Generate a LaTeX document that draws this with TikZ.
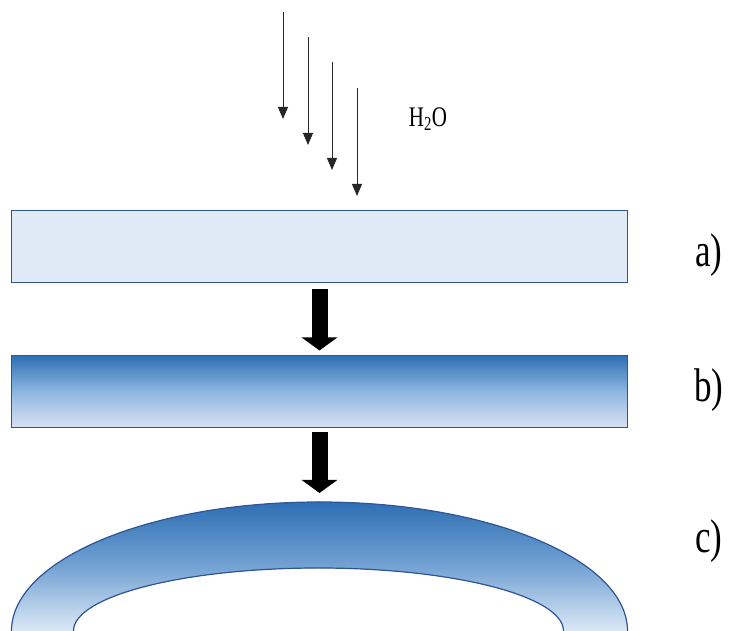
\documentclass[tikz,border=0pt]{standalone}
\usepackage{fontspec}
\setmainfont{Liberation Serif}
\usetikzlibrary{arrows.meta}
\definecolor{edgeblue}{HTML}{2F5597}
\definecolor{paleblue}{HTML}{DEEAF6}
\definecolor{deepblue}{HTML}{2E6FB5}
\definecolor{midblue}{HTML}{8DB6E0}
\definecolor{lavender}{HTML}{D9E0F3}
\definecolor{archmid}{HTML}{74A2D3}
\definecolor{lightblue}{HTML}{DCE9F6}
\newcommand{\stretchtext}[1]{\scalebox{1}[1.35]{#1}}
\begin{document}
\begin{tikzpicture}[x=1pt,y=1pt,
  layer/.style={draw=edgeblue, line width=1.5pt, minimum width=616pt, minimum height=72pt, inner sep=0pt, outer sep=0pt},
  fatarrow/.style={line width=16pt, -{Triangle[width=35pt,length=13pt]}},
  droparrow/.style={draw=black!85, line width=0.9pt, -{Triangle[width=10pt,length=12pt]}},
  steplabel/.style={font=\fontsize{35}{40}\selectfont, inner sep=0pt},
  watertext/.style={font=\fontsize{21}{25}\selectfont, inner sep=0pt},
  archedge/.style={draw=edgeblue, line width=1.2pt}]
\useasboundingbox (0,0) rectangle (731,631);

% layer a
\node[layer, fill=paleblue] (a) at (319.5,384.5) {};
% layer b
\node[layer, top color=deepblue, bottom color=lavender, middle color=midblue] (b) at (319.5,239.5) {};

% arch c
\fill[top color=deepblue, bottom color=lightblue, middle color=archmid]
  (11.5,0) arc[start angle=180, end angle=0, x radius=308, y radius=129]
  -- (563.5,0) arc[start angle=0, end angle=180, x radius=245, y radius=63] -- cycle;
\draw[archedge] (11.5,0) arc[start angle=180, end angle=0, x radius=308, y radius=129];
\draw[archedge] (563.5,0) arc[start angle=0, end angle=180, x radius=245, y radius=63];
\coordinate (archtop) at (319.5,129);

% fat arrows
\draw[fatarrow] ([yshift=-7pt]a.south) -- ([yshift=5pt]b.north);
\draw[fatarrow] ([yshift=-5pt]b.south) -- ([yshift=9pt]archtop);

% water drops
\coordinate (d1s) at (283,619); \coordinate (d1e) at (283,512);
\coordinate (d2s) at (308,594); \coordinate (d2e) at (308,486);
\coordinate (d3s) at (332,569); \coordinate (d3e) at (332,461);
\coordinate (d4s) at (357,543); \coordinate (d4e) at (357,435);
\draw[droparrow] (d1s) -- (d1e);
\draw[droparrow] (d2s) -- (d2e);
\draw[droparrow] (d3s) -- (d3e);
\draw[droparrow] (d4s) -- (d4e);
\node[watertext] (water) at (428,512) {\stretchtext{H\textsubscript{2}O}};

% labels
\node[steplabel] (la) at (709,376) {\stretchtext{a)}};
\node[steplabel] (lb) at (709,241) {\stretchtext{b)}};
\node[steplabel] (lc) at (709,89.5) {\stretchtext{c)}};
\end{tikzpicture}
\end{document}
